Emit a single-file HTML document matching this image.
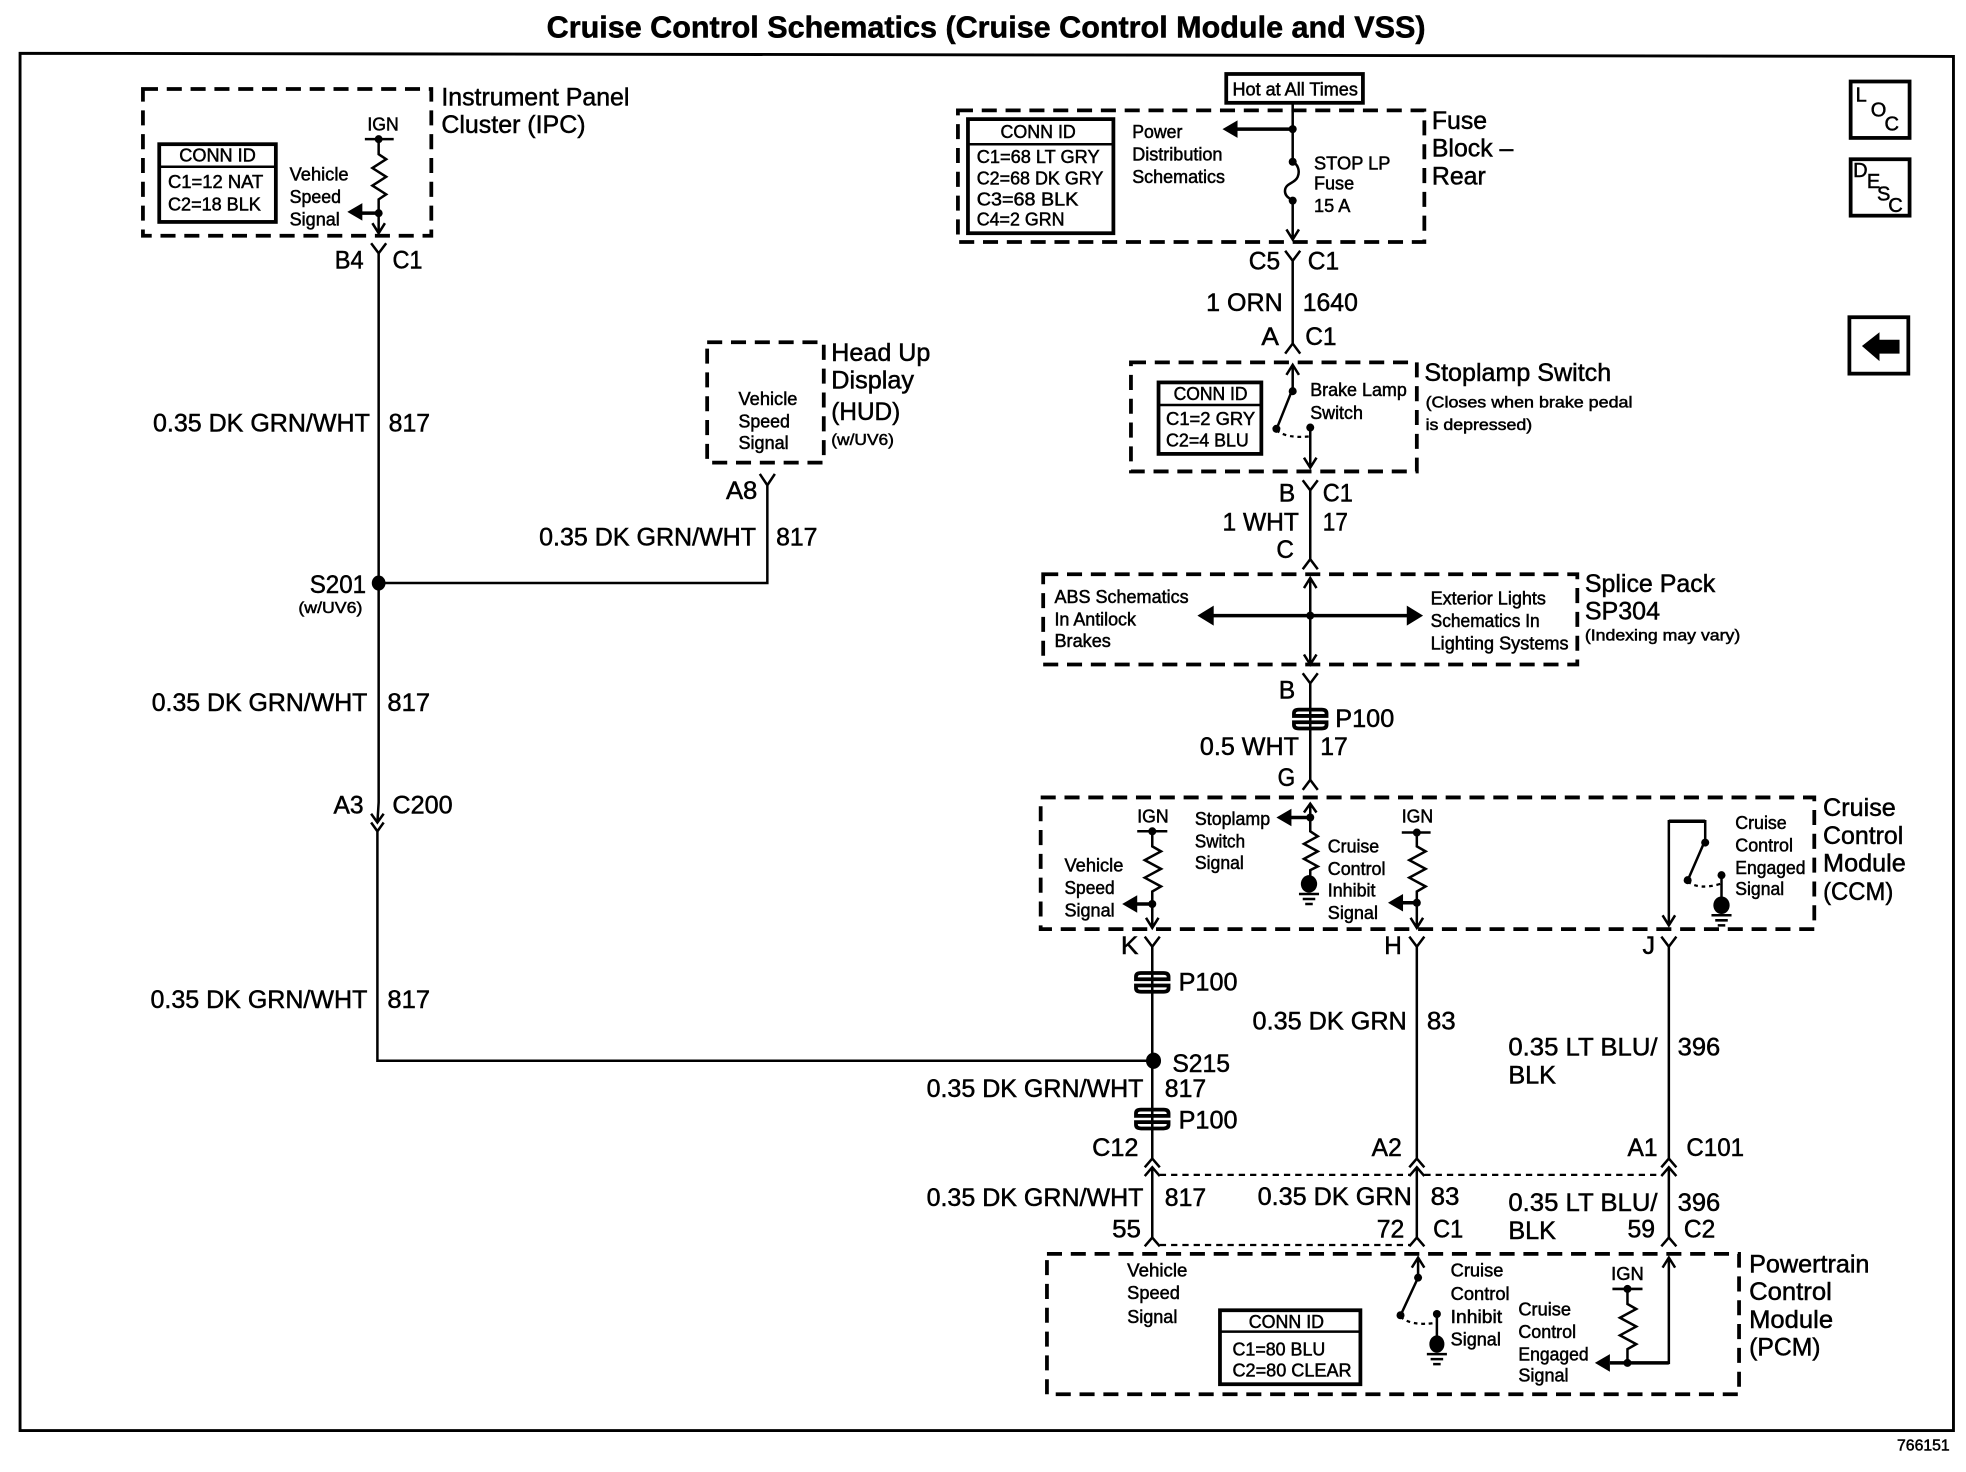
<!DOCTYPE html>
<html><head><meta charset="utf-8"><title>Cruise Control Schematics</title>
<style>
html,body{margin:0;padding:0;background:#fff}
svg{display:block}
text{font-family:"Liberation Sans",sans-serif;fill:#000;stroke:#000;stroke-width:.4}
.l{font-size:20px}
.s{font-size:14.5px}
.x{font-size:12.5px}
.w{fill:none;stroke:#000;stroke-width:2;stroke-linejoin:miter}
.b{fill:none;stroke:#000;stroke-width:3}
.d{fill:none;stroke:#000;stroke-width:3;stroke-dasharray:12 7}
.t{fill:none;stroke:#000;stroke-width:1.8;stroke-dasharray:5 4}
.f{fill:#000;stroke:none}
</style></head><body>
<svg xmlns="http://www.w3.org/2000/svg" width="1966" height="1472" viewBox="0 0 1568 1174">
<rect width="1568" height="1174" fill="#fff"/>
<text x="436" y="30" font-size="24" font-weight="bold" textLength="701" lengthAdjust="spacingAndGlyphs">Cruise Control Schematics (Cruise Control Module and VSS)</text>
<path d="M16 1141V42.5L1558 45V1141Z" class="w" style="stroke-width:2.3"/>
<text class="x" x="1513" y="1157" textLength="42" lengthAdjust="spacingAndGlyphs">766151</text>

<!-- dashed boxes -->
<rect class="d" x="114" y="71" width="230" height="117"/>
<rect class="d" x="564" y="273" width="93" height="96"/>
<rect class="d" x="764" y="88" width="372" height="105"/>
<rect class="d" x="902" y="289" width="228" height="87"/>
<rect class="d" x="832" y="458" width="426" height="72"/>
<rect class="d" x="830" y="636" width="617" height="105"/>
<rect class="d" x="835" y="1000" width="552" height="112"/>

<!-- IPC -->
<text class="l" x="352" y="84" textLength="150" lengthAdjust="spacingAndGlyphs">Instrument Panel</text>
<text class="l" x="352" y="106" textLength="115" lengthAdjust="spacingAndGlyphs">Cluster (IPC)</text>
<rect class="b" x="127" y="115" width="93" height="62"/><path class="w" d="M127 133H220"/>
<text class="s" x="143" y="129" textLength="61" lengthAdjust="spacingAndGlyphs">CONN ID</text>
<text class="s" x="134" y="150" textLength="76" lengthAdjust="spacingAndGlyphs">C1=12 NAT</text>
<text class="s" x="134" y="168" textLength="74" lengthAdjust="spacingAndGlyphs">C2=18 BLK</text>
<text class="s" x="231" y="144" textLength="47" lengthAdjust="spacingAndGlyphs">Vehicle</text>
<text class="s" x="231" y="162" textLength="41" lengthAdjust="spacingAndGlyphs">Speed</text>
<text class="s" x="231" y="180" textLength="40" lengthAdjust="spacingAndGlyphs">Signal</text>
<text class="s" x="293" y="104" textLength="25" lengthAdjust="spacingAndGlyphs">IGN</text>
<path class="w" d="M291 111H314M302 111V123l6 4-11 7 11 7-11 7 11 7-6 4V186M297 178l5 8 5-8"/>
<path class="w" style="stroke-width:2.8" d="M285 170H302"/>
<circle class="f" cx="302" cy="111" r="3.2"/><circle class="f" cx="302" cy="170" r="3.2"/>
<path class="f" d="M277 169l12-7v14z"/>
<path class="w" d="M296 194l6 8 6-8M302 202V640"/>
<text class="l" x="267" y="214" textLength="23" lengthAdjust="spacingAndGlyphs">B4</text>
<text class="l" x="313" y="214" textLength="24" lengthAdjust="spacingAndGlyphs">C1</text>
<text class="l" x="122" y="344" textLength="173" lengthAdjust="spacingAndGlyphs">0.35 DK GRN/WHT</text>
<text class="l" x="310" y="344" textLength="33" lengthAdjust="spacingAndGlyphs">817</text>

<!-- HUD -->
<text class="l" x="663" y="288" textLength="79" lengthAdjust="spacingAndGlyphs">Head Up</text>
<text class="l" x="663" y="310" textLength="66" lengthAdjust="spacingAndGlyphs">Display</text>
<text class="l" x="663" y="335" textLength="55" lengthAdjust="spacingAndGlyphs">(HUD)</text>
<text class="x" x="663" y="355" textLength="50" lengthAdjust="spacingAndGlyphs">(w/UV6)</text>
<text class="s" x="589" y="323" textLength="47" lengthAdjust="spacingAndGlyphs">Vehicle</text>
<text class="s" x="589" y="341" textLength="41" lengthAdjust="spacingAndGlyphs">Speed</text>
<text class="s" x="589" y="358" textLength="40" lengthAdjust="spacingAndGlyphs">Signal</text>
<path class="w" d="M606 378l6 9 6-9M612 387V465H302"/>
<text class="l" x="579" y="398" textLength="25" lengthAdjust="spacingAndGlyphs">A8</text>
<text class="l" x="430" y="435" textLength="173" lengthAdjust="spacingAndGlyphs">0.35 DK GRN/WHT</text>
<text class="l" x="619" y="435" textLength="33" lengthAdjust="spacingAndGlyphs">817</text>

<!-- S201 -->
<ellipse class="f" cx="302" cy="465" rx="5.5" ry="6"/>
<text class="l" x="247" y="473" textLength="45" lengthAdjust="spacingAndGlyphs">S201</text>
<text class="x" x="238" y="489" textLength="51" lengthAdjust="spacingAndGlyphs">(w/UV6)</text>
<text class="l" x="121" y="567" textLength="172" lengthAdjust="spacingAndGlyphs">0.35 DK GRN/WHT</text>
<text class="l" x="309" y="567" textLength="34" lengthAdjust="spacingAndGlyphs">817</text>
<text class="l" x="266" y="649" textLength="24" lengthAdjust="spacingAndGlyphs">A3</text>
<text class="l" x="313" y="649" textLength="48" lengthAdjust="spacingAndGlyphs">C200</text>
<path class="w" d="M302 640L301 656M296 649l5 7 5-7M296 656l5 7 5-7M301 663V846H920"/>
<text class="l" x="120" y="804" textLength="173" lengthAdjust="spacingAndGlyphs">0.35 DK GRN/WHT</text>
<text class="l" x="309" y="804" textLength="34" lengthAdjust="spacingAndGlyphs">817</text>

<!-- Fuse block -->
<rect class="b" x="978" y="59" width="109" height="23"/>
<text class="s" x="983" y="76" textLength="100" lengthAdjust="spacingAndGlyphs">Hot at All Times</text>
<text class="l" x="1142" y="103" textLength="44" lengthAdjust="spacingAndGlyphs">Fuse</text>
<text class="l" x="1142" y="125" textLength="65" lengthAdjust="spacingAndGlyphs">Block –</text>
<text class="l" x="1142" y="147" textLength="43" lengthAdjust="spacingAndGlyphs">Rear</text>
<rect class="b" x="772" y="95" width="116" height="91"/><path class="w" d="M772 115H888"/>
<text class="s" x="798" y="110" textLength="60" lengthAdjust="spacingAndGlyphs">CONN ID</text>
<text class="s" x="779" y="130" textLength="98" lengthAdjust="spacingAndGlyphs">C1=68 LT GRY</text>
<text class="s" x="779" y="147" textLength="101" lengthAdjust="spacingAndGlyphs">C2=68 DK GRY</text>
<text class="s" x="779" y="164" textLength="81" lengthAdjust="spacingAndGlyphs">C3=68 BLK</text>
<text class="s" x="779" y="180" textLength="70" lengthAdjust="spacingAndGlyphs">C4=2 GRN</text>
<text class="s" x="903" y="110" textLength="40" lengthAdjust="spacingAndGlyphs">Power</text>
<text class="s" x="903" y="128" textLength="72" lengthAdjust="spacingAndGlyphs">Distribution</text>
<text class="s" x="903" y="146" textLength="74" lengthAdjust="spacingAndGlyphs">Schematics</text>
<text class="s" x="1048" y="135" textLength="61" lengthAdjust="spacingAndGlyphs">STOP LP</text>
<text class="s" x="1048" y="151" textLength="32" lengthAdjust="spacingAndGlyphs">Fuse</text>
<text class="s" x="1048" y="169" textLength="29" lengthAdjust="spacingAndGlyphs">15 A</text>
<path class="w" d="M1031 83V129C1035 131 1037 136 1035 141C1033 146 1026 146 1025 151C1024 156 1028 158 1031 160V191M1026 183l5 8 5-8"/>
<path class="w" style="stroke-width:2.8" d="M985 103H1031"/>
<path class="f" d="M975 103l12-7v14z"/>
<circle class="f" cx="1031" cy="103" r="3.2"/><circle class="f" cx="1031" cy="129" r="3.2"/><circle class="f" cx="1031" cy="160" r="3.2"/>
<path class="w" d="M1025 200l6 8 6-8M1031 208V274M1025 282l6-8 6 8"/>
<text class="l" x="996" y="215" textLength="25" lengthAdjust="spacingAndGlyphs">C5</text>
<text class="l" x="1043" y="215" textLength="25" lengthAdjust="spacingAndGlyphs">C1</text>
<text class="l" x="962" y="248" textLength="61" lengthAdjust="spacingAndGlyphs">1 ORN</text>
<text class="l" x="1039" y="248" textLength="44" lengthAdjust="spacingAndGlyphs">1640</text>
<text class="l" x="1006" y="275" textLength="14" lengthAdjust="spacingAndGlyphs">A</text>
<text class="l" x="1041" y="275" textLength="25" lengthAdjust="spacingAndGlyphs">C1</text>

<!-- Stoplamp -->
<text class="l" x="1136" y="304" textLength="149" lengthAdjust="spacingAndGlyphs">Stoplamp Switch</text>
<text class="x" x="1137" y="325" textLength="165" lengthAdjust="spacingAndGlyphs">(Closes when brake pedal</text>
<text class="x" x="1137" y="343" textLength="85" lengthAdjust="spacingAndGlyphs">is depressed)</text>
<rect class="b" x="924" y="305" width="82" height="57"/><path class="w" d="M924 323H1006"/>
<text class="s" x="936" y="319" textLength="59" lengthAdjust="spacingAndGlyphs">CONN ID</text>
<text class="s" x="930" y="339" textLength="71" lengthAdjust="spacingAndGlyphs">C1=2 GRY</text>
<text class="s" x="930" y="356" textLength="66" lengthAdjust="spacingAndGlyphs">C2=4 BLU</text>
<text class="s" x="1045" y="316" textLength="77" lengthAdjust="spacingAndGlyphs">Brake Lamp</text>
<text class="s" x="1045" y="334" textLength="42" lengthAdjust="spacingAndGlyphs">Switch</text>
<path class="w" d="M1026 299l5-8 5 8M1031 291V310L1019 340M1045 341V373M1040 365l5 8 5-8"/>
<path class="t" d="M1018 343Q1026 350 1045 348" style="stroke-dasharray:3 3"/>
<circle class="f" cx="1031" cy="312" r="3.2"/><circle class="f" cx="1018" cy="342" r="3.2"/><circle class="f" cx="1045" cy="341" r="3.2"/>
<path class="w" d="M1039 383l6 8 6-8M1045 391V446M1039 454l6-8 6 8"/>
<text class="l" x="1020" y="400" textLength="13" lengthAdjust="spacingAndGlyphs">B</text>
<text class="l" x="1055" y="400" textLength="24" lengthAdjust="spacingAndGlyphs">C1</text>
<text class="l" x="975" y="423" textLength="61" lengthAdjust="spacingAndGlyphs">1 WHT</text>
<text class="l" x="1055" y="423" textLength="20" lengthAdjust="spacingAndGlyphs">17</text>
<text class="l" x="1018" y="445" textLength="14" lengthAdjust="spacingAndGlyphs">C</text>

<!-- Splice pack -->
<text class="l" x="1264" y="472" textLength="104" lengthAdjust="spacingAndGlyphs">Splice Pack</text>
<text class="l" x="1264" y="494" textLength="60" lengthAdjust="spacingAndGlyphs">SP304</text>
<text class="x" x="1264" y="511" textLength="124" lengthAdjust="spacingAndGlyphs">(Indexing may vary)</text>
<text class="s" x="841" y="481" textLength="107" lengthAdjust="spacingAndGlyphs">ABS Schematics</text>
<text class="s" x="841" y="499" textLength="65" lengthAdjust="spacingAndGlyphs">In Antilock</text>
<text class="s" x="841" y="516" textLength="45" lengthAdjust="spacingAndGlyphs">Brakes</text>
<text class="s" x="1141" y="482" textLength="92" lengthAdjust="spacingAndGlyphs">Exterior Lights</text>
<text class="s" x="1141" y="500" textLength="87" lengthAdjust="spacingAndGlyphs">Schematics In</text>
<text class="s" x="1141" y="518" textLength="110" lengthAdjust="spacingAndGlyphs">Lighting Systems</text>
<path class="w" style="stroke-width:2.8" d="M965 491H1124"/>
<path class="f" d="M955 491l13-8v16zM1135 491l-13-8v16z"/>
<path class="w" d="M1040 469l5-8 5 8M1045 461V530M1040 522l5 8 5-8"/>
<circle class="f" cx="1045" cy="491" r="3.2"/>
<path class="w" d="M1039 537l6 8 6-8M1045 545V622M1039 630l6-8 6 8"/>
<path class="w" d="M1032 569Q1032 566 1036 566H1054Q1058 566 1058 569V571H1032ZM1032 576V578Q1032 581 1036 581H1054Q1058 581 1058 578V576Z" style="stroke-width:3"/>
<text class="l" x="1020" y="557" textLength="13" lengthAdjust="spacingAndGlyphs">B</text>
<text class="l" x="1065" y="580" textLength="47" lengthAdjust="spacingAndGlyphs">P100</text>
<text class="l" x="957" y="602" textLength="79" lengthAdjust="spacingAndGlyphs">0.5 WHT</text>
<text class="l" x="1053" y="602" textLength="22" lengthAdjust="spacingAndGlyphs">17</text>
<text class="l" x="1019" y="627" textLength="14" lengthAdjust="spacingAndGlyphs">G</text>

<!-- CCM -->
<text class="l" x="1454" y="651" textLength="58" lengthAdjust="spacingAndGlyphs">Cruise</text>
<text class="l" x="1454" y="673" textLength="64" lengthAdjust="spacingAndGlyphs">Control</text>
<text class="l" x="1454" y="695" textLength="66" lengthAdjust="spacingAndGlyphs">Module</text>
<text class="l" x="1454" y="718" textLength="56" lengthAdjust="spacingAndGlyphs">(CCM)</text>
<text class="s" x="907" y="656" textLength="25" lengthAdjust="spacingAndGlyphs">IGN</text>
<text class="s" x="1118" y="656" textLength="25" lengthAdjust="spacingAndGlyphs">IGN</text>
<text class="s" x="849" y="695" textLength="47" lengthAdjust="spacingAndGlyphs">Vehicle</text>
<text class="s" x="849" y="713" textLength="40" lengthAdjust="spacingAndGlyphs">Speed</text>
<text class="s" x="849" y="731" textLength="40" lengthAdjust="spacingAndGlyphs">Signal</text>
<text class="s" x="953" y="658" textLength="60" lengthAdjust="spacingAndGlyphs">Stoplamp</text>
<text class="s" x="953" y="676" textLength="40" lengthAdjust="spacingAndGlyphs">Switch</text>
<text class="s" x="953" y="693" textLength="39" lengthAdjust="spacingAndGlyphs">Signal</text>
<text class="s" x="1059" y="680" textLength="41" lengthAdjust="spacingAndGlyphs">Cruise</text>
<text class="s" x="1059" y="698" textLength="46" lengthAdjust="spacingAndGlyphs">Control</text>
<text class="s" x="1059" y="715" textLength="38" lengthAdjust="spacingAndGlyphs">Inhibit</text>
<text class="s" x="1059" y="733" textLength="40" lengthAdjust="spacingAndGlyphs">Signal</text>
<text class="s" x="1384" y="661" textLength="41" lengthAdjust="spacingAndGlyphs">Cruise</text>
<text class="s" x="1384" y="679" textLength="46" lengthAdjust="spacingAndGlyphs">Control</text>
<text class="s" x="1384" y="697" textLength="56" lengthAdjust="spacingAndGlyphs">Engaged</text>
<text class="s" x="1384" y="714" textLength="39" lengthAdjust="spacingAndGlyphs">Signal</text>
<path class="w" d="M907 663H931M919 663V675l7 4-13 7 13 7-13 7 13 7-7 4V740M914 732l5 8 5-8"/>
<path class="w" style="stroke-width:2.8" d="M905 721H919"/>
<circle class="f" cx="919" cy="663" r="3.2"/><circle class="f" cx="919" cy="721" r="3.2"/><path class="f" d="M895 721l12-7v14z"/>
<path class="w" d="M1118 664H1141M1130 664V675l7 4-13 7 13 7-13 7 13 7-7 4V740M1125 732l5 8 5-8"/>
<path class="w" style="stroke-width:2.8" d="M1117 720H1130"/>
<circle class="f" cx="1130" cy="664" r="3.2"/><circle class="f" cx="1130" cy="720" r="3.2"/><path class="f" d="M1107 720l12-7v14z"/>
<path class="w" d="M1040 648l5-7 5 7M1045 641V663l6 4-11 6 11 6-11 6 11 6-6 3V705"/>
<path class="w" style="stroke-width:2.8" d="M1028 652H1045"/>
<circle class="f" cx="1045" cy="652" r="3.2"/><path class="f" d="M1018 652l12-7v14z"/>
<ellipse class="f" cx="1044" cy="705" rx="6.5" ry="7"/>
<path class="w" d="M1036 713H1052M1039 717H1049M1041 721H1047"/>
<path class="w" d="M1331 738V655H1360V670L1347 700M1326 730l5 8 5-8"/>
<path class="w" style="stroke-width:2.8" d="M1331 655H1360"/>
<path class="t" d="M1346 703Q1355 710 1372 705" style="stroke-dasharray:3 3"/>
<path class="w" d="M1373 697V722"/>
<circle class="f" cx="1360" cy="672" r="3.2"/><circle class="f" cx="1346" cy="702" r="3.2"/><circle class="f" cx="1373" cy="698" r="3.2"/>
<ellipse class="f" cx="1373" cy="722" rx="6.5" ry="7"/>
<path class="w" d="M1365 730H1381M1368 734H1378M1370 738H1376"/>

<!-- lower wires -->
<path class="w" d="M913 747l6 8 6-8M919 755V924M913 931l6-7 6 7M919 931V987M913 938l6-7 6 7M913 994l6-7 6 7"/>
<path class="w" d="M1124 747l6 8 6-8M1130 755V924M1124 931l6-7 6 7M1130 931V987M1124 938l6-7 6 7M1124 994l6-7 6 7"/>
<path class="w" d="M1325 747l6 8 6-8M1331 755V924M1325 931l6-7 6 7M1331 931V987M1325 938l6-7 6 7M1325 994l6-7 6 7"/>
<path class="t" d="M925 937H1125M1136 937H1326"/>
<path class="t" d="M925 993H1125"/>
<path class="w" style="stroke-width:3" d="M906 779Q906 776 910 776H928Q932 776 932 779V781H906ZM906 786V788Q906 791 910 791H928Q932 791 932 788V786Z"/>
<path class="w" style="stroke-width:3" d="M906 888Q906 885 910 885H928Q932 885 932 888V890H906ZM906 895V897Q906 900 910 900H928Q932 900 932 897V895Z"/>
<ellipse class="f" cx="920" cy="846" rx="6" ry="6.5"/>
<text class="l" x="894" y="761" textLength="14" lengthAdjust="spacingAndGlyphs">K</text>
<text class="l" x="1104" y="761" textLength="14" lengthAdjust="spacingAndGlyphs">H</text>
<text class="l" x="1310" y="761" textLength="10" lengthAdjust="spacingAndGlyphs">J</text>
<text class="l" x="940" y="790" textLength="47" lengthAdjust="spacingAndGlyphs">P100</text>
<text class="l" x="935" y="855" textLength="46" lengthAdjust="spacingAndGlyphs">S215</text>
<text class="l" x="739" y="875" textLength="173" lengthAdjust="spacingAndGlyphs">0.35 DK GRN/WHT</text>
<text class="l" x="929" y="875" textLength="33" lengthAdjust="spacingAndGlyphs">817</text>
<text class="l" x="940" y="900" textLength="47" lengthAdjust="spacingAndGlyphs">P100</text>
<text class="l" x="871" y="922" textLength="37" lengthAdjust="spacingAndGlyphs">C12</text>
<text class="l" x="739" y="962" textLength="173" lengthAdjust="spacingAndGlyphs">0.35 DK GRN/WHT</text>
<text class="l" x="929" y="962" textLength="33" lengthAdjust="spacingAndGlyphs">817</text>
<text class="l" x="887" y="987" textLength="23" lengthAdjust="spacingAndGlyphs">55</text>
<text class="l" x="999" y="821" textLength="123" lengthAdjust="spacingAndGlyphs">0.35 DK GRN</text>
<text class="l" x="1138" y="821" textLength="23" lengthAdjust="spacingAndGlyphs">83</text>
<text class="l" x="1094" y="922" textLength="24" lengthAdjust="spacingAndGlyphs">A2</text>
<text class="l" x="1003" y="961" textLength="123" lengthAdjust="spacingAndGlyphs">0.35 DK GRN</text>
<text class="l" x="1141" y="961" textLength="23" lengthAdjust="spacingAndGlyphs">83</text>
<text class="l" x="1098" y="987" textLength="22" lengthAdjust="spacingAndGlyphs">72</text>
<text class="l" x="1143" y="987" textLength="24" lengthAdjust="spacingAndGlyphs">C1</text>
<text class="l" x="1203" y="842" textLength="119" lengthAdjust="spacingAndGlyphs">0.35 LT BLU/</text>
<text class="l" x="1338" y="842" textLength="34" lengthAdjust="spacingAndGlyphs">396</text>
<text class="l" x="1203" y="864" textLength="38" lengthAdjust="spacingAndGlyphs">BLK</text>
<text class="l" x="1298" y="922" textLength="24" lengthAdjust="spacingAndGlyphs">A1</text>
<text class="l" x="1345" y="922" textLength="46" lengthAdjust="spacingAndGlyphs">C101</text>
<text class="l" x="1203" y="966" textLength="119" lengthAdjust="spacingAndGlyphs">0.35 LT BLU/</text>
<text class="l" x="1338" y="966" textLength="34" lengthAdjust="spacingAndGlyphs">396</text>
<text class="l" x="1203" y="988" textLength="38" lengthAdjust="spacingAndGlyphs">BLK</text>
<text class="l" x="1298" y="987" textLength="22" lengthAdjust="spacingAndGlyphs">59</text>
<text class="l" x="1343" y="987" textLength="25" lengthAdjust="spacingAndGlyphs">C2</text>

<!-- PCM -->
<text class="l" x="1395" y="1015" textLength="96" lengthAdjust="spacingAndGlyphs">Powertrain</text>
<text class="l" x="1395" y="1037" textLength="66" lengthAdjust="spacingAndGlyphs">Control</text>
<text class="l" x="1395" y="1059" textLength="67" lengthAdjust="spacingAndGlyphs">Module</text>
<text class="l" x="1395" y="1081" textLength="57" lengthAdjust="spacingAndGlyphs">(PCM)</text>
<text class="s" x="899" y="1018" textLength="48" lengthAdjust="spacingAndGlyphs">Vehicle</text>
<text class="s" x="899" y="1036" textLength="42" lengthAdjust="spacingAndGlyphs">Speed</text>
<text class="s" x="899" y="1055" textLength="40" lengthAdjust="spacingAndGlyphs">Signal</text>
<rect class="b" x="973" y="1045" width="112" height="59"/><path class="w" d="M973 1062H1085"/>
<text class="s" x="996" y="1059" textLength="60" lengthAdjust="spacingAndGlyphs">CONN ID</text>
<text class="s" x="983" y="1081" textLength="74" lengthAdjust="spacingAndGlyphs">C1=80 BLU</text>
<text class="s" x="983" y="1098" textLength="95" lengthAdjust="spacingAndGlyphs">C2=80 CLEAR</text>
<text class="s" x="1157" y="1018" textLength="42" lengthAdjust="spacingAndGlyphs">Cruise</text>
<text class="s" x="1157" y="1037" textLength="47" lengthAdjust="spacingAndGlyphs">Control</text>
<text class="s" x="1157" y="1055" textLength="41" lengthAdjust="spacingAndGlyphs">Inhibit</text>
<text class="s" x="1157" y="1073" textLength="40" lengthAdjust="spacingAndGlyphs">Signal</text>
<text class="s" x="1211" y="1049" textLength="42" lengthAdjust="spacingAndGlyphs">Cruise</text>
<text class="s" x="1211" y="1067" textLength="46" lengthAdjust="spacingAndGlyphs">Control</text>
<text class="s" x="1211" y="1085" textLength="56" lengthAdjust="spacingAndGlyphs">Engaged</text>
<text class="s" x="1211" y="1102" textLength="40" lengthAdjust="spacingAndGlyphs">Signal</text>
<text class="s" x="1285" y="1021" textLength="26" lengthAdjust="spacingAndGlyphs">IGN</text>
<path class="w" d="M1126 1011l5-8 5 8M1131 1003V1019L1118 1047M1146 1048V1070"/>
<path class="t" d="M1117 1050Q1125 1058 1145 1055" style="stroke-dasharray:3 3"/>
<circle class="f" cx="1131" cy="1019" r="3.2"/><circle class="f" cx="1117" cy="1049" r="3.2"/><circle class="f" cx="1146" cy="1048" r="3.2"/>
<ellipse class="f" cx="1146" cy="1072" rx="6" ry="7"/>
<path class="w" d="M1138 1080H1154M1141 1084H1151M1143 1088H1149"/>
<path class="w" d="M1286 1028H1310M1298 1028V1040l7 4-13 7 13 7-13 7 13 7-7 4V1087H1331V1003M1326 1011l5-8 5 8"/>
<path class="w" style="stroke-width:2.8" d="M1284 1087H1331"/>
<circle class="f" cx="1298" cy="1028" r="3.2"/><circle class="f" cx="1298" cy="1087" r="3.2"/><path class="f" d="M1272 1087l12-7v14z"/>

<!-- side buttons -->
<rect class="b" x="1476" y="65" width="47" height="45"/>
<text font-size="16" x="1480" y="81">L</text><text font-size="16" x="1492" y="93">O</text><text font-size="16" x="1503" y="104">C</text>
<rect class="b" x="1476" y="127" width="47" height="45"/>
<text font-size="16" x="1478" y="141">D</text><text font-size="16" x="1489" y="150">E</text><text font-size="16" x="1497" y="160">S</text><text font-size="16" x="1506" y="169">C</text>
<rect class="b" x="1475" y="253" width="47" height="45"/>
<path class="f" d="M1485 276l14-11v6h16v11h-16v6z"/>
</svg>
</body></html>
